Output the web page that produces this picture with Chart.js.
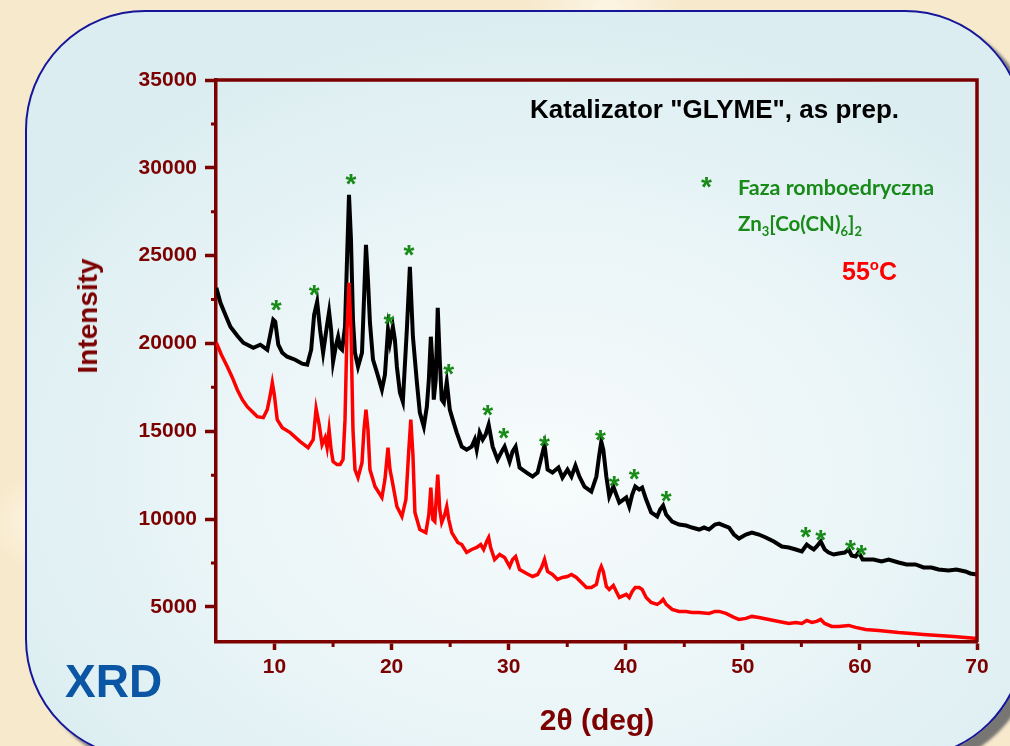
<!DOCTYPE html>
<html>
<head>
<meta charset="utf-8">
<script src="https://cdn.jsdelivr.net/npm/chart.js@4.4.1/dist/chart.umd.min.js"></script>
<style>
  html, body { margin: 0; padding: 0; }
  body {
    width: 1010px; height: 746px; overflow: hidden; position: relative;
    background: #f7e9cc;
    background-image:
      radial-gradient(circle at 15% 30%, rgba(255,250,238,0.7) 0, rgba(255,250,238,0) 60px),
      radial-gradient(circle at 4% 70%, rgba(255,248,232,0.8) 0, rgba(255,248,232,0) 50px),
      radial-gradient(circle at 60% 2%, rgba(255,250,238,0.7) 0, rgba(255,250,238,0) 80px);
    font-family: "Liberation Sans", Arial, sans-serif;
  }
  .panel {
    position: absolute; left: 25px; top: 10px; width: 1000px; height: 749px;
    box-sizing: border-box;
    border: 2px solid #16169a; border-radius: 120px;
    background: radial-gradient(ellipse 62% 62% at 52% 62%, #f7fbfc 0%, #eaf5f7 55%, #dbedf1 100%);
    box-shadow: 9px 8px 3px rgba(105,105,105,0.9);
  }
  #wrap { position: absolute; left: 0; top: 0; width: 1010px; height: 746px; }
  .txt { position: absolute; white-space: nowrap; line-height: 1; }
  .green { color: #188a18; font-family: Lato, "Open Sans", sans-serif; font-weight: 700; }
</style>
</head>
<body>
<div class="panel"></div>
<div id="wrap"><canvas id="xrd" width="1010" height="746"></canvas></div>

<div class="txt" style="left:530px; top:96px; font-size:26px; font-weight:bold; color:#000;">Katalizator "GLYME", as prep.</div>
<div class="txt" style="left:701px; top:173px; font-size:28px; font-weight:bold; color:#188a18;">*</div>
<div class="txt green" style="left:738px; top:177px; font-size:21.5px;">Faza romboedryczna</div>
<div class="txt green" style="left:738px; top:213px; font-size:20.5px;">Zn<sub style="font-size:13px; vertical-align:-5px;">3</sub>[Co(CN)<sub style="font-size:13px; vertical-align:-5px;">6</sub>]<sub style="font-size:13px; vertical-align:-5px;">2</sub></div>
<div class="txt" style="left:842px; top:257px; font-size:25px; font-weight:bold; color:#ff0000;">55<span style="font-size:15px; vertical-align:10px;">o</span>C</div>
<div class="txt" style="left:65px; top:658px; font-size:46px; font-weight:bold; color:#0b55a5;">XRD</div>
<div class="txt" style="left:497px; top:705px; width:200px; text-align:center; font-size:30px; font-weight:bold; color:#7d0000;">2θ (deg)</div>
<div class="txt" style="left:88px; top:316px; font-size:28px; font-weight:bold; color:#7d0000; transform: translate(-50%,-50%) rotate(-90deg);">Intensity</div>

<script>
// axis ticks
const xTicks = [10, 20, 30, 40, 50, 60, 70];
const yTicks = [5000, 10000, 15000, 20000, 25000, 30000, 35000];

// 55 C sample (red) and as prepared sample (black)
const redX = [5.03,5.46,5.97,6.40,6.82,7.25,7.67,8.10,8.53,9.04,9.38,9.64,9.81,9.98,10.23,10.66,11.34,12.19,12.87,13.30,13.55,13.81,14.06,14.32,14.49,14.66,14.83,15.00,15.34,15.60,15.85,16.02,16.19,16.36,16.53,16.70,16.87,17.13,17.47,17.64,17.81,17.98,18.15,18.58,19.17,19.43,19.69,19.86,20.03,20.45,20.88,21.22,21.47,21.64,21.82,21.99,22.41,22.92,23.18,23.35,23.52,23.69,23.94,24.11,24.28,24.54,24.71,24.88,25.14,25.65,25.99,26.41,26.84,27.27,27.61,27.86,28.12,28.29,28.46,28.80,29.23,29.65,30.08,30.33,30.59,30.93,31.53,32.04,32.47,32.81,33.06,33.32,33.74,34.17,34.59,35.02,35.36,35.78,36.21,36.64,37.06,37.49,37.74,37.91,38.08,38.34,38.59,38.94,39.19,39.45,40.04,40.30,40.55,40.81,41.15,41.40,41.74,42.17,42.68,42.94,43.19,43.45,43.96,44.55,45.15,45.66,46.26,47.11,47.62,47.97,48.56,49.24,49.67,50.26,50.77,51.37,52.22,53.07,53.93,54.52,55.04,55.46,55.89,56.31,56.65,56.99,57.59,58.18,59.04,59.63,60.48,61.59,62.45,63.30,64.41,65.43,66.71,67.99,69.01,70.00];
const redY = [20041,19358,18675,18050,17367,16798,16400,16116,15831,15774,16230,17083,17765,17083,15661,15206,14921,14409,14068,14523,16287,15376,14239,14637,14068,15092,13954,13272,13102,13102,13386,15661,20780,23453,20780,15092,12817,12362,13215,15092,16230,15092,12817,11851,11225,12248,14068,12817,12248,10713,10144,11111,13954,15661,13670,10372,9404,9233,10258,11794,9973,9860,12533,10542,9803,10258,10713,9973,9233,8665,8552,8097,8267,8381,8552,8267,8722,8950,8381,7698,7983,7812,7300,7698,7869,7130,6902,6731,6844,7244,7698,7016,6844,6560,6674,6731,6844,6674,6390,6106,6106,6276,7016,7300,7016,6162,5992,6219,5878,5537,5708,5537,5878,6106,6106,5992,5537,5252,5139,5252,5423,5139,4854,4741,4741,4684,4684,4627,4741,4741,4627,4400,4286,4343,4457,4400,4286,4172,4058,4115,4058,4229,4115,4172,4286,4058,3887,3887,3944,3830,3716,3660,3603,3546,3489,3432,3375,3318,3262,3205];

const blackX = [5.03,5.38,5.80,6.23,6.82,7.33,8.19,8.78,9.38,9.72,9.89,10.06,10.32,10.66,11.08,11.76,12.36,12.79,13.13,13.38,13.64,13.89,14.15,14.49,14.66,14.83,15.00,15.26,15.43,15.60,15.77,16.02,16.19,16.36,16.53,16.70,16.87,17.13,17.47,17.64,17.81,17.98,18.15,18.41,18.75,19.17,19.43,19.69,19.86,20.11,20.28,20.45,20.71,20.96,21.30,21.56,21.82,22.16,22.41,22.75,23.01,23.18,23.35,23.52,23.60,23.77,23.94,24.11,24.28,24.46,24.71,24.97,25.22,25.56,25.99,26.41,26.84,27.10,27.27,27.52,27.78,28.03,28.29,28.63,29.05,29.40,29.65,30.08,30.33,30.59,30.93,31.53,32.04,32.47,32.81,33.06,33.32,33.74,34.25,34.59,35.02,35.36,35.70,36.04,36.47,37.06,37.49,37.74,37.91,38.08,38.34,38.59,38.94,39.19,39.45,40.04,40.30,40.55,40.81,41.15,41.40,41.74,42.17,42.68,42.94,43.19,43.45,43.96,44.55,45.15,45.66,46.26,46.69,47.11,47.62,47.97,48.39,48.82,49.24,49.67,50.26,50.77,51.37,51.96,52.65,53.33,53.93,54.52,55.04,55.46,55.80,56.06,56.31,56.65,56.99,57.33,57.76,58.18,58.70,59.04,59.29,59.63,59.89,60.23,60.57,61.17,61.85,62.45,63.30,63.98,64.75,65.43,66.11,66.71,67.56,68.24,69.01,69.43,70.00];
const blackY = [23169,22316,21633,20951,20439,20041,19756,19927,19642,20780,21349,21235,19927,19472,19244,19074,18846,18789,19642,21633,22373,20780,19472,21064,21804,20780,18960,19927,20382,19756,19642,20951,24763,28459,25900,21349,19472,18675,19472,22486,25615,23624,21178,19074,18334,17367,18221,20780,20041,20951,20212,18675,17197,16685,20780,24363,20382,17765,16059,15263,16400,17936,20382,18505,16798,17936,22031,19074,16798,16628,17822,16230,15661,14921,14125,13954,14125,14523,13954,14921,14523,14808,15376,14125,13386,13841,14125,13272,13841,14125,12931,12647,12419,12647,13556,14239,12817,12647,12931,12362,12817,12419,13044,12419,11851,11566,12419,13670,14409,13954,12419,11282,11851,11395,10940,11225,10713,11395,11851,11680,11794,11111,10372,10144,10542,10770,10258,9860,9689,9632,9518,9404,9518,9404,9689,9746,9632,9518,9120,8893,9120,9233,9120,8950,8722,8438,8381,8267,8154,8552,8381,8267,8438,8722,8267,8097,7983,8040,8097,8267,7926,7869,8097,7698,7698,7698,7585,7698,7528,7414,7414,7244,7244,7130,7073,7130,7016,6902,6844];

// green * marks above the rhombohedral phase peaks
const starX = [10.14,13.38,16.53,19.77,21.47,24.88,28.20,29.57,33.06,37.83,39.02,40.72,43.45,55.37,56.65,59.20,60.14];
const starY = [22316,23169,29483,21519,25444,18675,16343,15035,14580,14921,12305,12703,11452,9404,9234,8665,8380];

const maroon = '#7d0000';
const tickFont = { family: "'Liberation Sans', Arial, sans-serif", size: 21, weight: 'bold' };

const toPts = (xs, ys) => xs.map((x, i) => ({ x, y: ys[i] }));

const extras = {
  id: 'extras',
  afterDraw(chart) {
    const { ctx, chartArea: a, scales: { x, y } } = chart;
    ctx.save();
    ctx.strokeStyle = maroon;
    ctx.lineWidth = 3.5;
    // top and right frame
    ctx.beginPath();
    ctx.moveTo(a.left, a.top);
    ctx.lineTo(a.right, a.top);
    ctx.lineTo(a.right, a.bottom);
    ctx.stroke();
    // minor ticks
    ctx.lineWidth = 3;
    ctx.beginPath();
    for (let v = 15; v < 70; v += 10) {
      const px = x.getPixelForValue(v);
      ctx.moveTo(px, a.bottom);
      ctx.lineTo(px, a.bottom + 5);
    }
    for (let v = 7500; v < 35000; v += 5000) {
      const py = y.getPixelForValue(v);
      ctx.moveTo(a.left, py);
      ctx.lineTo(a.left - 5, py);
    }
    ctx.stroke();
    // peak marks
    ctx.fillStyle = '#188a18';
    ctx.font = "bold 28px 'Liberation Sans', Arial, sans-serif";
    ctx.textAlign = 'center';
    ctx.textBaseline = 'alphabetic';
    starX.forEach((sx, i) => {
      ctx.fillText('*', x.getPixelForValue(sx), y.getPixelForValue(starY[i]) + 16);
    });
    ctx.restore();
  }
};

new Chart(document.getElementById('xrd'), {
  type: 'line',
  data: {
    datasets: [
      { label: '55 C', data: toPts(redX, redY), borderColor: '#ff0000', borderWidth: 3.5, pointRadius: 0, tension: 0 },
      { label: 'as prep.', data: toPts(blackX, blackY), borderColor: '#000000', borderWidth: 4, pointRadius: 0, tension: 0 }
    ]
  },
  options: {
    responsive: false,
    animation: false,
    devicePixelRatio: 1,
    layout: { padding: { left: 0, top: 80, right: 33, bottom: 0 } },
    plugins: { legend: { display: false }, tooltip: { enabled: false } },
    scales: {
      x: {
        type: 'linear', min: 5, max: 70,
        afterBuildTicks: s => { s.ticks = xTicks.map(v => ({ value: v })); },
        ticks: { color: maroon, font: tickFont, padding: 5, maxRotation: 0, callback: v => String(v) },
        grid: { drawOnChartArea: false, drawTicks: true, tickLength: 8, tickWidth: 3.5, tickColor: maroon, color: maroon },
        border: { color: maroon, width: 3.5 },
        afterFit: s => { s.height = 104; }
      },
      y: {
        min: 3000, max: 35000,
        afterBuildTicks: s => { s.ticks = yTicks.map(v => ({ value: v })); },
        ticks: { color: maroon, font: tickFont, padding: 8, callback: v => String(v) },
        grid: { drawOnChartArea: false, drawTicks: true, tickLength: 11, tickWidth: 3.5, tickColor: maroon, color: maroon },
        border: { color: maroon, width: 3.5 },
        afterFit: s => { s.width = 216; }
      }
    }
  },
  plugins: [extras]
});
</script>
</body>
</html>
